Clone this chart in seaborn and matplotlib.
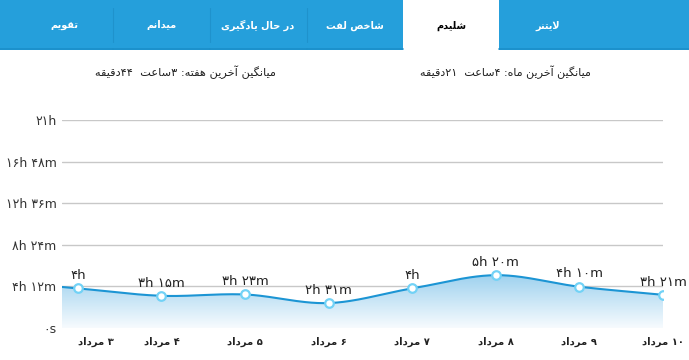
import re
import numpy as np
import matplotlib
matplotlib.use("Agg")
import matplotlib.pyplot as plt
from matplotlib.colors import LinearSegmentedColormap
from matplotlib.patches import Rectangle
import seaborn as sns

# data
tabs = ["تقویم", "میدانم", "در حال یادگیری", "شاخص لفت", "شلیدم", "لایتنر"]
active_tab = "شلیدم"
avg_week = "میانگین آخرین هفته: ۳ساعت  ۴۴دقیقه"
avg_month = "میانگین آخرین ماه: ۴ساعت  ۲۱دقیقه"
days = ["۳ مرداد", "۴ مرداد", "۵ مرداد", "۶ مرداد", "۷ مرداد", "۸ مرداد", "۹ مرداد", "۱۰ مرداد"]
minutes = [240, 195, 203, 151, 240, 320, 250, 201]   # daily study time
y_ticks = [0, 252, 504, 756, 1008, 1260]

# --- persian shaping (matplotlib has no bidi / joining) ---
FORMS = {
    'ا': ('\uFE8D', '\uFE8E', None, None), 'آ': ('\uFE81', '\uFE82', None, None),
    'د': ('\uFEA9', '\uFEAA', None, None), 'ر': ('\uFEAD', '\uFEAE', None, None),
    'و': ('\uFEED', '\uFEEE', None, None),
    'ت': ('\uFE95', '\uFE96', '\uFE97', '\uFE98'), 'ح': ('\uFEA1', '\uFEA2', '\uFEA3', '\uFEA4'),
    'خ': ('\uFEA5', '\uFEA6', '\uFEA7', '\uFEA8'), 'س': ('\uFEB1', '\uFEB2', '\uFEB3', '\uFEB4'),
    'ش': ('\uFEB5', '\uFEB6', '\uFEB7', '\uFEB8'), 'ص': ('\uFEB9', '\uFEBA', '\uFEBB', '\uFEBC'),
    'ع': ('\uFEC9', '\uFECA', '\uFECB', '\uFECC'), 'ف': ('\uFED1', '\uFED2', '\uFED3', '\uFED4'),
    'ق': ('\uFED5', '\uFED6', '\uFED7', '\uFED8'), 'ل': ('\uFEDD', '\uFEDE', '\uFEDF', '\uFEE0'),
    'م': ('\uFEE1', '\uFEE2', '\uFEE3', '\uFEE4'), 'ن': ('\uFEE5', '\uFEE6', '\uFEE7', '\uFEE8'),
    'ه': ('\uFEE9', '\uFEEA', '\uFEEB', '\uFEEC'), 'ی': ('\uFBFC', '\uFBFD', '\uFBFE', '\uFBFF'),
    'گ': ('\uFB92', '\uFB93', '\uFB94', '\uFB95'),
}
LAMALEF = {'ا': ('\uFEFB', '\uFEFC'), 'آ': ('\uFEF5', '\uFEF6')}


def fa(s):
    out = []
    i = 0
    while i < len(s):
        c = s[i]
        if c not in FORMS:
            out.append(c)
            i += 1
            continue
        prev = s[i - 1] if i > 0 else None
        nxt = s[i + 1] if i + 1 < len(s) else None
        jp = prev in FORMS and FORMS[prev][2] is not None
        if c == 'ل' and nxt in LAMALEF:
            out.append(LAMALEF[nxt][1 if jp else 0])
            i += 2
            continue
        jn = nxt in FORMS and FORMS[c][2] is not None
        k = 3 if (jp and jn) else 1 if jp else 2 if jn else 0
        out.append(FORMS[c][k])
        i += 1
    runs = re.findall(r'[0-9۰-۹]+|[^0-9۰-۹]', ''.join(out))
    return ''.join(reversed(runs))


def fa_digits(n):
    return str(n).translate(str.maketrans("0123456789", "۰۱۲۳۴۵۶۷۸۹"))


def fmt_time(m):
    h, mm = divmod(int(m), 60)
    if h == 0 and mm == 0:
        return fa_digits(0) + "s"
    if mm == 0:
        return fa_digits(h) + "h"
    return fa_digits(h) + "h " + fa_digits(mm) + "m"


sns.set_theme(style="white")
plt.rcParams['font.family'] = ['DejaVu Sans']

fig = plt.figure(figsize=(6.89, 3.6), dpi=100)

# --- tab bar ---
blue = "#259fdb"
tab_edges = [0, 113, 210, 307, 403, 499, 689]
tab_text_x = [64, 161, 258, 355, 451, 548]
tb = fig.add_axes([0, 1 - 50 / 360, 1, 50 / 360])
tb.set_xlim(0, 689)
tb.set_ylim(50, 0)
tb.axis("off")
for i, name in enumerate(tabs):
    x0, x1 = tab_edges[i], tab_edges[i + 1]
    is_active = name == active_tab
    tb.add_patch(Rectangle((x0, 0), x1 - x0, 50, color="white" if is_active else blue, lw=0))
    if not is_active:
        tb.plot([x0, x1], [49.3, 49.3], color="#1b8fc9", lw=1.2)
    if 0 < i and not is_active and tabs[i - 1] != active_tab:
        tb.plot([x0, x0], [8, 42], color="#1f92cc", lw=0.8)
    tb.text(tab_text_x[i], 28.5, fa(name), ha="center", va="baseline", fontsize=7,
            fontweight="bold", color="black" if is_active else "white")

# --- averages ---
fig.text(505 / 689, 1 - 72 / 360, fa(avg_month), ha="center", va="center", fontsize=8, color="#222222")
fig.text(185 / 689, 1 - 72 / 360, fa(avg_week), ha="center", va="center", fontsize=8.2, color="#222222")

# --- chart ---
ax = fig.add_axes([62 / 689, 1 - 328 / 360, (663 - 62) / 689, (328 - 120) / 360])
x = np.arange(len(minutes))
y = np.array(minutes, dtype=float)

# cardinal spline for the smooth line
tang = np.gradient(y)
xs, ys = [], []
for i in range(len(y) - 1):
    t = np.linspace(0, 1, 40)
    h00 = 2 * t**3 - 3 * t**2 + 1
    h10 = t**3 - 2 * t**2 + t
    h01 = -2 * t**3 + 3 * t**2
    h11 = t**3 - t**2
    xs.extend(x[i] + t)
    ys.extend(h00 * y[i] + h10 * tang[i] + h01 * y[i + 1] + h11 * tang[i + 1])
x_left = -0.19
xs = np.r_[x_left, xs]
ys = np.r_[y[0] + x_left * tang[0], ys]

fill = ax.fill_between(xs, ys, 0, color="none", lw=0)
grad = np.linspace(1, 0, 256).reshape(-1, 1)
cmap = LinearSegmentedColormap.from_list("g", ["#f7fbfe", "#9fd2ef"])
im = ax.imshow(grad, extent=[x_left, x[-1], 0, ys.max()], aspect="auto", cmap=cmap,
               origin="upper", zorder=1)
im.set_clip_path(fill.get_paths()[0], transform=ax.transData)

for yt in y_ticks:
    ax.axhline(yt, color="#c8c8c8", lw=1, zorder=0.5)

sns.lineplot(x=xs, y=ys, ax=ax, color="#1c95d4", lw=1.5, sort=False, zorder=3)
sns.scatterplot(x=x, y=y, ax=ax, s=38, color="white", edgecolor="#72d2f6", linewidth=1.6, zorder=4)

for xi, yi in zip(x, y):
    ax.annotate(fmt_time(yi), (xi, yi), xytext=(0, 4.5), textcoords="offset points",
                ha="center", va="bottom", fontsize=9.5, color="#222222", annotation_clip=False)

ax.set_xlim(x_left, x[-1])
ax.set_ylim(0, 1260)
ax.set_yticks(y_ticks)
ax.set_yticklabels([fmt_time(v) for v in y_ticks], fontsize=9, color="#333333")
ax.set_xticks(x)
ax.set_xticklabels([fa(d) for d in days], fontsize=7.2, fontweight="bold", color="#222222")
ax.get_xticklabels()[0].set_horizontalalignment("left")
ax.tick_params(axis="both", length=0)
ax.tick_params(axis="y", pad=4)
ax.tick_params(axis="x", pad=6.5)
for s in ax.spines.values():
    s.set_visible(False)
ax.set_facecolor("none")

fig.savefig("out.png", dpi=100)
